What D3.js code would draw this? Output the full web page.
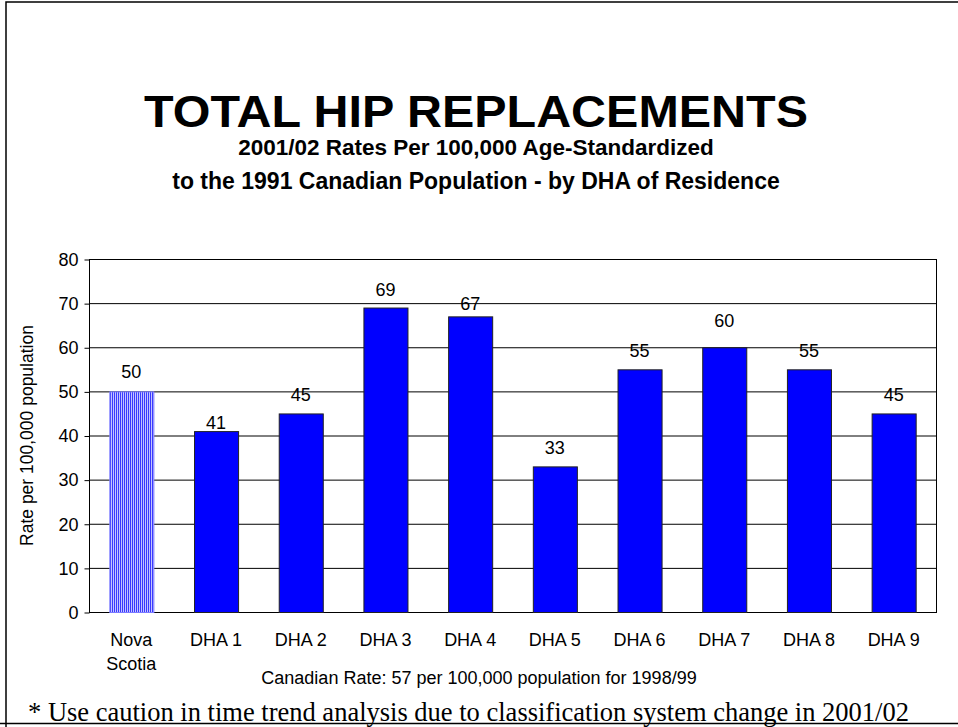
<!DOCTYPE html>
<html>
<head>
<meta charset="utf-8">
<script src="https://cdn.jsdelivr.net/npm/d3@7"></script>
<style>
  body { margin: 0; background: #fff; }
  text { font-family: "Liberation Sans", Arial, sans-serif; fill: #000; }
</style>
</head>
<body>
<svg id="chart" width="958" height="727"></svg>
<script>
// chart data
var areas = ['Nova Scotia', 'DHA 1', 'DHA 2', 'DHA 3', 'DHA 4', 'DHA 5', 'DHA 6', 'DHA 7', 'DHA 8', 'DHA 9']
var rates = [50, 41, 45, 69, 67, 33, 55, 60, 55, 45]
var yTicks = [0, 10, 20, 30, 40, 50, 60, 70, 80]

// labels in the original sit at slightly different heights above the bars
var labelLift = [13, 2, 12, 12, 6, 12, 12, 20, 12, 12]

var svg = d3.select('#chart')

// pattern for the provincial bar
var defs = svg.append('defs')
var pat = defs.append('pattern').attr('id', 'stripes')
  .attr('patternUnits', 'userSpaceOnUse').attr('width', 2).attr('height', 4)
pat.append('rect').attr('width', 2).attr('height', 4).attr('fill', '#c4c4ff')
pat.append('rect').attr('width', 1).attr('height', 4).attr('fill', '#3a3aff')

// page frame
svg.append('path').attr('d', 'M6,727 L6,2 L958,2').attr('fill', 'none').attr('stroke', '#000').attr('stroke-width', 1.5)
svg.append('line').attr('x1', 0).attr('y1', 723.5).attr('x2', 958).attr('y2', 723.5).attr('stroke', '#000').attr('stroke-width', 1.5)

// titles
svg.append('text').attr('x', 476).attr('y', 127).attr('text-anchor', 'middle')
  .attr('textLength', 664).attr('lengthAdjust', 'spacingAndGlyphs')
  .style('font-size', '45px').style('font-weight', 'bold').text('TOTAL HIP REPLACEMENTS')
svg.append('text').attr('x', 476).attr('y', 155).attr('text-anchor', 'middle')
  .style('font-size', '22.5px').style('font-weight', 'bold').text('2001/02 Rates Per 100,000 Age-Standardized')
svg.append('text').attr('x', 476).attr('y', 189).attr('text-anchor', 'middle')
  .style('font-size', '23px').style('font-weight', 'bold').text('to the 1991 Canadian Population - by DHA of Residence')

var plotL = 89, plotR = 936, plotT = 259, plotB = 612

var x = d3.scaleBand().domain(areas).range([plotL, plotR]).paddingInner(0.48).paddingOuter(0.24)
var y = d3.scaleLinear().domain([0, 80]).range([plotB, plotT])

// gridlines
svg.append('g').selectAll('line').data(yTicks).join('line')
  .attr('x1', plotL).attr('x2', plotR)
  .attr('y1', d => y(d) + 0.5).attr('y2', d => y(d) + 0.5)
  .attr('stroke', '#000').attr('stroke-width', 1)

// plot frame
svg.append('rect').attr('x', plotL + 0.5).attr('y', plotT + 0.5)
  .attr('width', plotR - plotL).attr('height', plotB - plotT)
  .attr('fill', 'none').attr('stroke', '#000').attr('stroke-width', 1)

// y axis
var yAxis = svg.append('g').attr('transform', 'translate(' + (plotL + 0.5) + ',0.5)')
  .call(d3.axisLeft(y).tickValues(yTicks).tickSize(5).tickPadding(6))
yAxis.select('.domain').remove()
yAxis.selectAll('line').attr('stroke', '#000')
yAxis.selectAll('text').attr('font-family', null).attr('font-size', null).style('font-size', '18px')

svg.append('text').attr('transform', 'translate(33,' + ((plotT + plotB) / 2) + ') rotate(-90)')
  .attr('text-anchor', 'middle').style('font-size', '17.5px').text('Rate per 100,000 population')

// bars
svg.append('g').selectAll('rect').data(rates).join('rect')
  .attr('x', (d, i) => x(areas[i]) + 0.5)
  .attr('y', d => y(d) + 0.5)
  .attr('width', x.bandwidth())
  .attr('height', d => plotB - y(d))
  .attr('fill', (d, i) => i == 0 ? 'url(#stripes)' : '#0000ff')
  .attr('stroke', (d, i) => i == 0 ? '#7a7aff' : '#222')
  .attr('stroke-width', 1)

// value labels
svg.append('g').selectAll('text').data(rates).join('text')
  .attr('x', (d, i) => x(areas[i]) + x.bandwidth() / 2)
  .attr('y', (d, i) => y(d) - labelLift[i])
  .attr('text-anchor', 'middle').style('font-size', '18px')
  .text(d => d)

// category labels
var cat = svg.append('g').selectAll('text').data(areas).join('text')
  .attr('x', d => x(d) + x.bandwidth() / 2)
  .attr('y', 646)
  .attr('text-anchor', 'middle').style('font-size', '18px')
cat.each(function (d) {
  var words = d == 'Nova Scotia' ? ['Nova', 'Scotia'] : [d]
  var t = d3.select(this)
  words.forEach(function (w, k) {
    t.append('tspan').attr('x', t.attr('x')).attr('dy', k == 0 ? 0 : 24).text(w)
  })
})

svg.append('text').attr('x', 479).attr('y', 684).attr('text-anchor', 'middle')
  .style('font-size', '18px').text('Canadian Rate: 57 per 100,000 population for 1998/99')

// footnote
svg.append('text').attr('x', 28).attr('y', 721)
  .style('font-family', '"Liberation Serif", "Times New Roman", serif').style('font-size', '26.5px')
  .text('* Use caution in time trend analysis due to classification system change in 2001/02')
</script>
</body>
</html>
